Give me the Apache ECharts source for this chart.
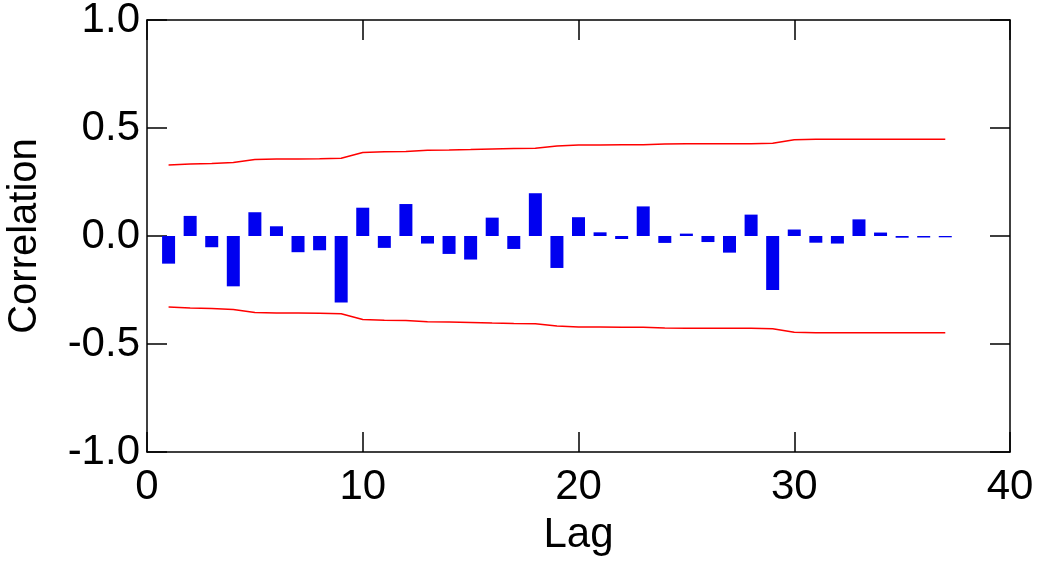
<!DOCTYPE html>
<html>
<head>
<meta charset="utf-8">
<script src="https://cdn.jsdelivr.net/npm/echarts@6/dist/echarts.min.js"></script>
<style>html,body{margin:0;padding:0;background:#fff}#c{width:1042px;height:564px}</style>
</head>
<body>
<div id="c"></div>
<script>
const lags = [1,2,3,4,5,6,7,8,9,10,11,12,13,14,15,16,17,18,19,20,21,22,23,24,25,26,27,28,29,30,31,32,33,34,35,36,37];
const correlation = [-0.128,0.093,-0.052,-0.233,0.110,0.045,-0.075,-0.066,-0.308,0.131,-0.055,0.148,-0.035,-0.083,-0.109,0.085,-0.060,0.198,-0.148,0.087,0.017,-0.014,0.137,-0.032,0.011,-0.028,-0.077,0.099,-0.250,0.030,-0.031,-0.035,0.077,0.016,-0.008,-0.007,-0.006];
const upperLimit = [0.329,0.333,0.336,0.340,0.354,0.357,0.357,0.358,0.360,0.387,0.390,0.391,0.397,0.398,0.400,0.403,0.405,0.406,0.417,0.421,0.421,0.423,0.422,0.426,0.427,0.427,0.427,0.427,0.429,0.446,0.448,0.448,0.448,0.448,0.448,0.448,0.448];
const lowerLimit = upperLimit.map(v => -v);
const xTicks = [0,10,20,30,40];
const yTicks = [-1.0,-0.5,0.0,0.5,1.0];

const FONT = '"Liberation Sans", Arial, sans-serif';
const chart = echarts.init(document.getElementById('c'), null, {renderer:'canvas'});
const axisLine = {show:true, onZero:false, lineStyle:{color:'#000', width:1.5}};
const tick = {show:true, inside:true, length:20, lineStyle:{color:'#000', width:1.5}};
chart.setOption({
  animation:false,
  backgroundColor:'#fff',
  grid:{left:147, right:32, top:20, bottom:112, show:false, containLabel:false, outerBoundsMode:'none'},
  xAxis:[{
    type:'value', min:xTicks[0], max:xTicks[xTicks.length-1], interval:10, position:'bottom',
    name:'Lag', nameLocation:'middle', nameGap:62,
    nameTextStyle:{fontFamily:FONT, fontSize:42, color:'#000'},
    axisLine:axisLine, axisTick:tick, splitLine:{show:false},
    axisLabel:{fontFamily:FONT, fontSize:42, color:'#000', margin:14}
  },{
    type:'value', min:xTicks[0], max:xTicks[xTicks.length-1], interval:10, position:'top',
    axisLine:axisLine, axisTick:tick, splitLine:{show:false}, axisLabel:{show:false}
  }],
  yAxis:[{
    type:'value', min:yTicks[0], max:yTicks[yTicks.length-1], interval:0.5, position:'left',
    name:'Correlation', nameLocation:'middle', nameGap:102, nameRotate:90,
    nameTextStyle:{fontFamily:FONT, fontSize:40, color:'#000'},
    axisLine:axisLine, axisTick:tick, splitLine:{show:false},
    axisLabel:{fontFamily:FONT, fontSize:42, color:'#000', margin:7, formatter:v=>v.toFixed(1)}
  },{
    type:'value', min:yTicks[0], max:yTicks[yTicks.length-1], interval:0.5, position:'right',
    axisLine:axisLine, axisTick:tick, splitLine:{show:false}, axisLabel:{show:false}
  }],
  series:[{
    type:'bar', xAxisIndex:0, yAxisIndex:0, barWidth:13,
    itemStyle:{color:'#0000f0'},
    data:lags.map((l,i)=>[l, correlation[i]])
  },{
    type:'line', xAxisIndex:0, yAxisIndex:0, symbol:'none',
    lineStyle:{color:'#ff0000', width:1.5},
    data:lags.map((l,i)=>[l, upperLimit[i]])
  },{
    type:'line', xAxisIndex:0, yAxisIndex:0, symbol:'none',
    lineStyle:{color:'#ff0000', width:1.5},
    data:lags.map((l,i)=>[l, lowerLimit[i]])
  }]
});
</script>
</body>
</html>
